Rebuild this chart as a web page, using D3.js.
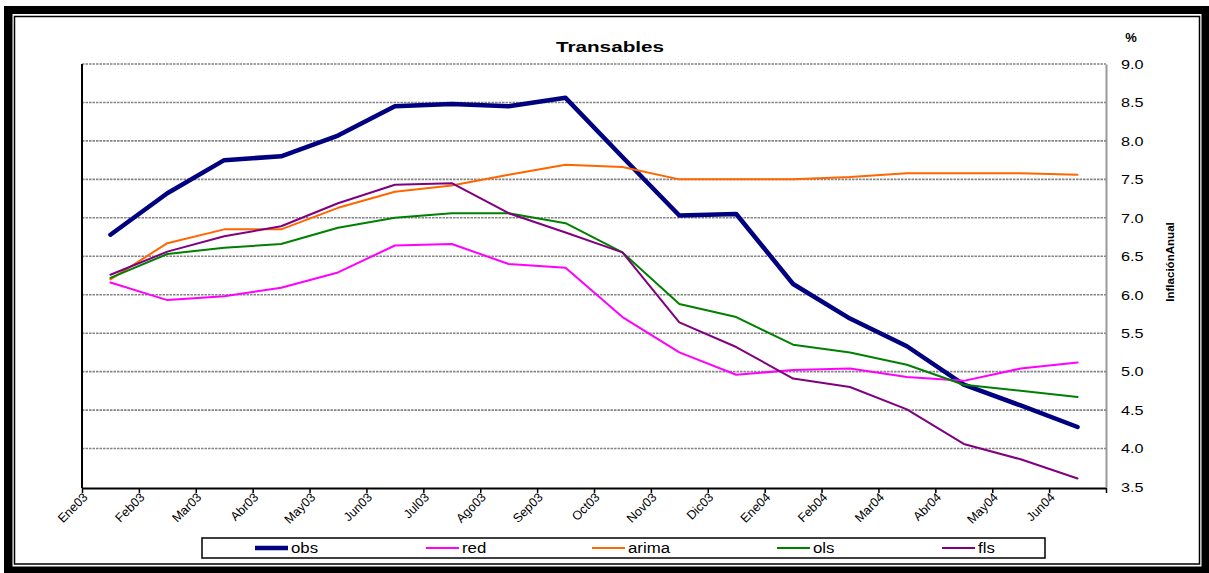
<!DOCTYPE html>
<html>
<head>
<meta charset="utf-8">
<script src="https://cdn.jsdelivr.net/npm/d3@7"></script>
<style>
  body { margin: 0; background: #fff; }
  text { font-family: "Liberation Sans", Arial, sans-serif; }
</style>
</head>
<body>
<svg id="chart"></svg>
<script>
const width = 1209;
const height = 573;

// data
const months = ['Ene03', 'Feb03', 'Mar03', 'Abr03', 'May03', 'Jun03', 'Jul03', 'Ago03', 'Sep03',
                'Oct03', 'Nov03', 'Dic03', 'Ene04', 'Feb04', 'Mar04', 'Abr04', 'May04', 'Jun04'];
const yTicks = [3.5, 4.0, 4.5, 5.0, 5.5, 6.0, 6.5, 7.0, 7.5, 8.0, 8.5, 9.0];

const obs   = [6.78, 7.32, 7.75, 7.80, 8.07, 8.45, 8.48, 8.45, 8.56, 7.79, 7.03, 7.05, 6.14, 5.69, 5.33, 4.83, 4.56, 4.28];
const red   = [6.16, 5.93, 5.98, 6.09, 6.29, 6.64, 6.66, 6.40, 6.35, 5.71, 5.25, 4.96, 5.02, 5.04, 4.93, 4.88, 5.04, 5.12];
const arima = [6.20, 6.67, 6.85, 6.85, 7.13, 7.34, 7.42, 7.56, 7.69, 7.66, 7.50, 7.50, 7.50, 7.53, 7.58, 7.58, 7.58, 7.56];
const ols   = [6.22, 6.53, 6.61, 6.66, 6.87, 7.00, 7.06, 7.06, 6.93, 6.55, 5.88, 5.71, 5.35, 5.25, 5.09, 4.83, 4.75, 4.67];
const fls   = [6.26, 6.56, 6.76, 6.89, 7.19, 7.43, 7.45, 7.06, 6.81, 6.55, 5.64, 5.32, 4.91, 4.80, 4.51, 4.06, 3.86, 3.61];

const seriesNames = ['obs', 'red', 'arima', 'ols', 'fls'];
const seriesValues = [obs, red, arima, ols, fls];
const colors = ['#000080', '#FF00FF', '#FF6600', '#008000', '#800080'];
const widths = [4.5, 2, 2, 2, 2];

const plot = {left: 82, right: 1106, top: 64, bottom: 487};

const svg = d3.select('#chart')
    .attr('width', width)
    .attr('height', height);

// stretch text horizontally, the picture's fonts run wide
function stretch(sel, k) {
    sel.each(function() {
        const len = this.getComputedTextLength();
        d3.select(this).attr('textLength', len * k).attr('lengthAdjust', 'spacingAndGlyphs');
    });
}

// frame
svg.append('rect').attr('x', 4).attr('y', 6).attr('width', 1205).attr('height', 567).attr('fill', '#000');
svg.append('rect').attr('x', 12.5).attr('y', 14).attr('width', 1189).attr('height', 552.5).attr('fill', '#fff');
svg.append('rect').attr('x', 14.5).attr('y', 16.5).attr('width', 1185).attr('height', 547.5)
    .attr('fill', 'none').attr('stroke', '#000').attr('stroke-width', 1.5);

const x = d3.scaleLinear().domain([0, months.length]).range([plot.left, plot.right]);
const y = d3.scaleLinear().domain([3.5, 9.0]).range([plot.bottom, plot.top]);

// gridlines
svg.append('g')
    .selectAll('line')
    .data(yTicks.slice(1))
    .enter()
    .append('line')
    .attr('x1', plot.left)
    .attr('x2', plot.right)
    .attr('y1', d => y(d))
    .attr('y2', d => y(d))
    .attr('stroke', '#858585')
    .attr('stroke-width', 1.6)
    .attr('stroke-dasharray', '2.5,1');

// right axis (values)
const yAxis = svg.append('g')
    .attr('transform', `translate(${plot.right}, 0)`)
    .call(d3.axisRight(y).tickValues(yTicks).tickSize(0).tickPadding(15).tickFormat(d3.format('.1f')));
yAxis.select('.domain').attr('stroke', '#999').attr('stroke-width', 2);
yAxis.selectAll('text')
    .attr('font-size', 13.5)
    .attr('fill', '#000')
    .call(stretch, 1.2);

// left axis line
svg.append('line')
    .attr('x1', plot.left).attr('x2', plot.left)
    .attr('y1', plot.top).attr('y2', plot.bottom + 1)
    .attr('stroke', '#000').attr('stroke-width', 2);

// bottom axis
const xAxis = svg.append('g')
    .attr('transform', `translate(0, ${plot.bottom + 1})`)
    .call(d3.axisBottom(x)
        .tickValues(d3.range(months.length + 1))
        .tickSizeInner(5)
        .tickSizeOuter(0)
        .tickFormat(i => months[i] || ''));
xAxis.select('.domain').attr('stroke', '#000').attr('stroke-width', 2);
xAxis.selectAll('.tick line').attr('stroke', '#000').attr('stroke-width', 1.5);
xAxis.selectAll('text')
    .attr('font-size', 12.5)
    .attr('fill', '#000')
    .attr('text-anchor', 'end')
    .attr('y', 0)
    .attr('dy', 0)
    .attr('transform', 'translate(6, 10) rotate(-45)');

// series
const line = d3.line()
    .x((d, i) => x(i + 0.5))
    .y(d => y(d));

seriesValues.forEach((vals, k) => {
    svg.append('path')
        .datum(vals)
        .attr('d', line)
        .attr('fill', 'none')
        .attr('stroke', colors[k])
        .attr('stroke-width', widths[k])
        .attr('stroke-linejoin', 'round')
        .attr('stroke-linecap', 'round');
});

// title and axis labels
svg.append('text')
    .attr('x', 610).attr('y', 51.5)
    .attr('text-anchor', 'middle')
    .attr('font-size', 15)
    .attr('font-weight', 'bold')
    .text('Transables')
    .call(stretch, 1.38);

svg.append('text')
    .attr('x', 1131).attr('y', 42)
    .attr('text-anchor', 'middle')
    .attr('font-size', 13)
    .attr('font-weight', 'bold')
    .text('%');

svg.append('text')
    .attr('transform', 'translate(1174, 262) rotate(-90)')
    .attr('text-anchor', 'middle')
    .attr('font-size', 10.5)
    .attr('font-weight', 'bold')
    .text('InflaciónAnual')
    .call(stretch, 1.1);

// legend
const legendX = [255, 426, 592, 777, 942];
const legend = svg.append('g');
legend.append('rect')
    .attr('x', 202).attr('y', 538)
    .attr('width', 843).attr('height', 20)
    .attr('fill', '#fff').attr('stroke', '#000').attr('stroke-width', 1.5);

const items = legend.selectAll('g.item')
    .data(seriesNames)
    .enter()
    .append('g')
    .attr('class', 'item')
    .attr('transform', (d, i) => `translate(${legendX[i]}, 548)`);

items.append('line')
    .attr('x1', 0).attr('x2', 33)
    .attr('stroke', (d, i) => colors[i])
    .attr('stroke-width', (d, i) => widths[i]);

items.append('text')
    .attr('x', 36).attr('y', 5)
    .attr('font-size', 14)
    .text(d => d)
    .call(stretch, 1.2);
</script>
</body>
</html>
